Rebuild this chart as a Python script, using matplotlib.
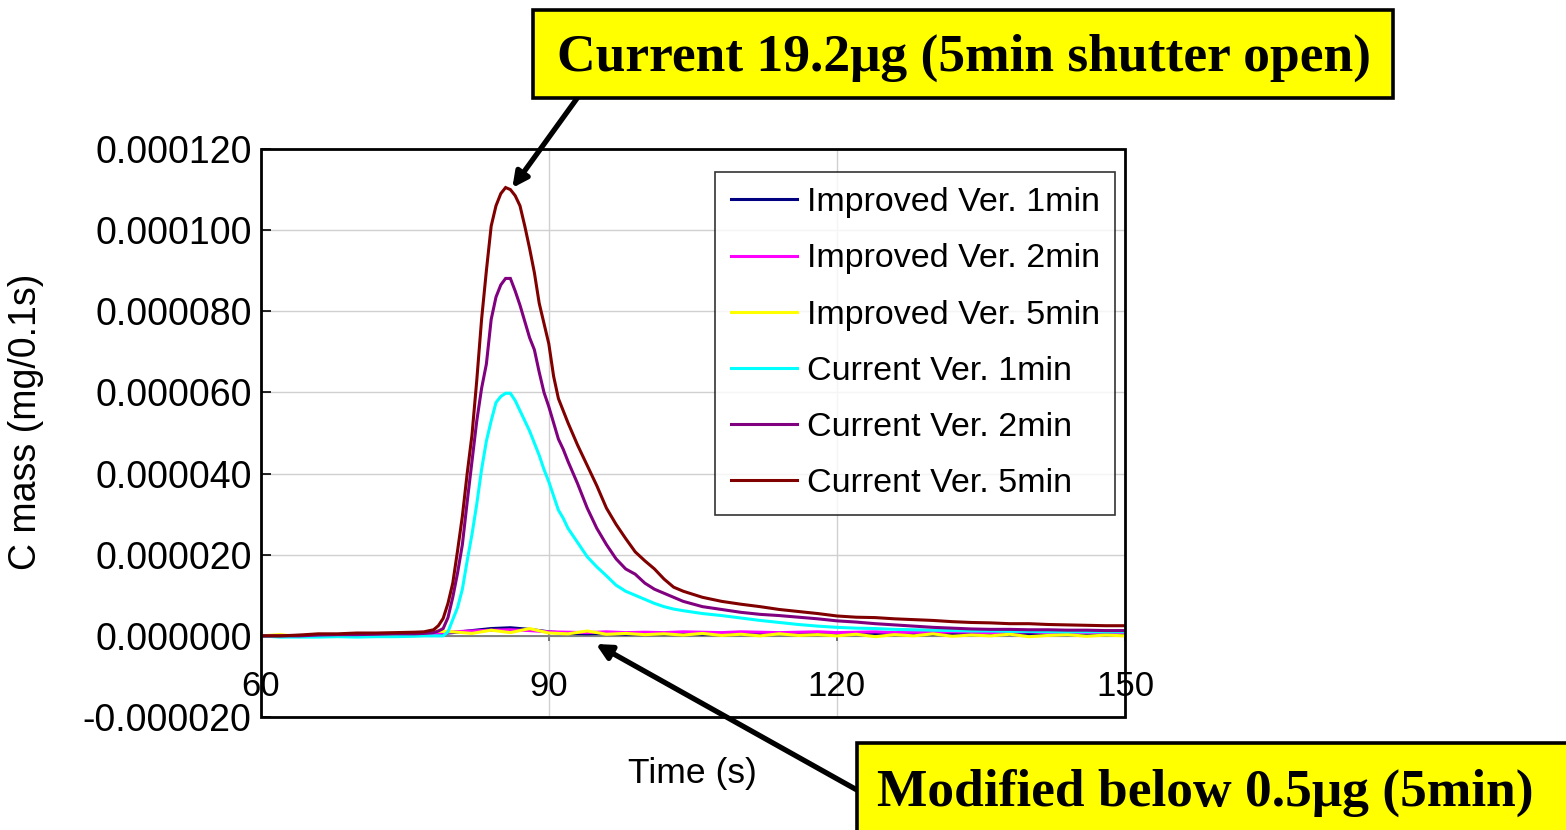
import numpy as np
import matplotlib
matplotlib.use("Agg")
import matplotlib.pyplot as plt
from matplotlib.patches import Rectangle
from matplotlib.ticker import FuncFormatter

# ---- data (mass values in units of 1e-6 mg per 0.1 s) ----
UNIT = 1e-6

time_cur = [60, 62, 64, 66, 68, 70, 72, 74, 76, 77, 78,
            78.5, 79, 79.5, 80, 80.5, 81, 81.5, 82, 82.5, 83, 83.5, 84, 84.5, 85,
            85.5, 86, 86.5, 87, 87.5, 88, 88.5, 89, 89.5, 90, 90.5, 91, 91.5, 92,
            93, 94, 95, 96, 97, 98, 99, 100, 101, 102, 103, 104,
            106, 108, 110, 112, 114, 116, 118, 120, 122, 124, 126, 128, 130, 132,
            134, 136, 138, 140, 142, 144, 146, 148, 150]

cur_1min = [0, -0.3, -0.3, -0.3, -0.2, -0.3, -0.2, -0.2, -0.1, 0, 0,
            0, 0, 1.0, 4.0, 7.0, 11.5, 18.5, 25, 32.5, 41, 48, 53, 57.5, 59,
            59.8, 59.8, 58, 55.5, 53, 50.5, 47.5, 44.5, 41, 38, 34.5, 31, 29, 26.5,
            23, 19.5, 17, 14.8, 12.5, 11, 10, 9, 8, 7.2, 6.6, 6.2,
            5.5, 5.0, 4.4, 3.8, 3.3, 2.8, 2.4, 2.1, 1.9, 1.8, 1.6, 1.5, 1.4, 1.3,
            1.2, 1.2, 1.1, 1.1, 1.0, 1.0, 1.0, 1.0, 1.0]

cur_2min = [0, 0, 0, 0.2, 0.3, 0.3, 0.4, 0.5, 0.5, 0.6, 0.8,
            1.2, 1.8, 4.5, 9.5, 15.5, 22.5, 33, 43, 53, 61, 67, 78, 83.5, 86.5,
            88.1, 88.1, 85, 81.5, 77.5, 73.5, 70.5, 65, 60, 56.5, 52.5, 48.5, 46, 43,
            37.5, 31.5, 26.5, 22.5, 19, 16.5, 15.2, 13, 11.5, 10.5, 9.5, 8.5,
            7.2, 6.5, 5.8, 5.3, 5.0, 4.6, 4.2, 3.7, 3.4, 3.0, 2.7, 2.4, 2.1, 1.9,
            1.7, 1.6, 1.6, 1.5, 1.5, 1.4, 1.4, 1.3, 1.3]

cur_5min = [0, 0, 0.2, 0.5, 0.5, 0.7, 0.7, 0.8, 0.9, 1.0, 1.5,
            2.5, 4.3, 8, 13, 21, 29.5, 40, 49.5, 63, 78, 90, 101, 106, 109,
            110.5, 110, 108.5, 106, 101, 95.5, 89.5, 82, 77, 72, 64, 58.5, 55.5, 52.5,
            47, 42, 37, 31.5, 27.5, 24, 20.7, 18.5, 16.5, 14, 12, 11,
            9.5, 8.5, 7.8, 7.2, 6.5, 6.0, 5.5, 4.9, 4.6, 4.5, 4.2, 4.0, 3.8, 3.5,
            3.3, 3.2, 3.0, 3.0, 2.8, 2.7, 2.6, 2.5, 2.5]

time_imp = [60, 62, 64, 66, 68, 70, 72, 74, 76, 78,
            80, 82, 84, 86, 88, 90, 92, 94, 96, 98,
            100, 102, 104, 106, 108, 110, 112, 114, 116, 118,
            120, 122, 124, 126, 128, 130, 132, 134, 136, 138,
            140, 142, 144, 146, 148, 150]

imp_1min = [0, 0, 0.1, 0, 0.2, 0.1, 0.2, 0.1, 0.2, 0.4,
            0.8, 1.3, 1.8, 2.0, 1.6, 1.0, 0.6, 0.5, 0.6, 0.4,
            0.5, 0.4, 0.6, 0.4, 0.5, 0.5, 0.4, 0.6, 0.5, 0.4,
            0.5, 0.6, 0.4, 0.5, 0.5, 0.4, 0.6, 0.5, 0.5, 0.4,
            0.5, 0.6, 0.5, 0.4, 0.5, 0.5]

imp_2min = [0, 0.1, 0, 0.2, 0, 0.1, 0.2, 0.1, 0.3, 0.5,
            1.0, 1.2, 1.4, 1.5, 1.3, 1.0, 0.9, 0.8, 1.0, 0.8,
            0.9, 0.8, 1.0, 0.9, 0.8, 1.0, 0.9, 0.8, 0.9, 1.0,
            0.8, 0.9, 1.0, 0.8, 0.9, 0.8, 1.0, 0.9, 0.8, 0.9,
            1.0, 0.8, 0.9, 0.8, 0.9, 0.8]

imp_5min = [0, 0.3, -0.2, 0.4, -0.1, 0.2, 0.5, 0.1, 0.3, 1.2,
            1.0, 0.6, 1.4, 0.8, 1.8, 0.7, 0.5, 1.2, 0.4, 0.6,
            0.3, 0.5, 0.2, 0.6, 0.1, 0.4, 0.0, 0.5, 0.1, 0.3,
            0.0, 0.4, -0.2, 0.3, 0.0, 0.5, -0.1, 0.2, 0.0, 0.4,
            -0.2, 0.1, 0.3, -0.1, 0.2, 0.0]

series_labels = ["Improved Ver. 1min", "Improved Ver. 2min", "Improved Ver. 5min",
                 "Current Ver. 1min", "Current Ver. 2min", "Current Ver. 5min"]
series_colors = ["#000080", "#FF00FF", "#FFFF00", "#00FFFF", "#800080", "#800000"]

x_ticks = [60, 90, 120, 150]
y_ticks = [-0.00002, 0.0, 0.00002, 0.00004, 0.00006, 0.00008, 0.0001, 0.00012]

note_top = "Current 19.2μg (5min shutter open)"
note_bottom = "Modified below 0.5μg (5min)"
peak_time, peak_value = 86.2, 110.4      # arrow target on the 5min current peak
base_time, base_value = 94.9, -2.0       # arrow target near the improved baseline

# ---- figure ----
plt.rcParams["font.family"] = ["Liberation Sans", "DejaVu Sans"]
W, H = 1566, 830
fig = plt.figure(figsize=(W / 100, H / 100), dpi=100)
ax = fig.add_axes([260.7 / W, 1 - 717 / H, (1125 - 260.7) / W, (717 - 149) / H])

series = [(time_imp, imp_1min), (time_imp, imp_2min), (time_imp, imp_5min),
          (time_cur, cur_1min), (time_cur, cur_2min), (time_cur, cur_5min)]
handles = []
for (tt, vv), lab, col in zip(series, series_labels, series_colors):
    h, = ax.plot(tt, np.array(vv) * UNIT, color=col, lw=2.2, label=lab,
                 solid_joinstyle="miter", zorder=3)
    handles.append(h)

ax.set_xlim(60, 150)
ax.set_ylim(-0.00002, 0.00012)
ax.set_xticks(x_ticks)
ax.set_yticks(y_ticks)
ax.yaxis.set_major_formatter(FuncFormatter(lambda v, p: f"{v:.6f}"))
ax.grid(True, color="#d0d0d0", lw=1.0, zorder=0)
ax.set_axisbelow(True)

# horizontal axis crosses at zero; the plot area keeps a black frame
for s in ("top", "right", "left"):
    ax.spines[s].set_visible(False)
ax.spines["bottom"].set_position(("data", 0))
ax.spines["bottom"].set_color("#808080")
ax.spines["bottom"].set_linewidth(1.4)
ax.spines["bottom"].set_zorder(2)
ax.add_patch(Rectangle((0, 0), 1, 1, transform=ax.transAxes, fill=False,
                       ec="black", lw=2.0, zorder=5, clip_on=False))

ax.tick_params(axis="x", direction="inout", length=7, width=1.2, color="#606060",
               pad=21, labelsize=25)
ax.tick_params(axis="y", direction="in", length=7, width=1.2, color="black",
               pad=6.5, labelsize=27)

ax.set_xlabel("Time (s)", fontsize=25.5)
ax.xaxis.set_label_coords(0.5, (717 - 757) / 568)
ax.set_ylabel("C mass (mg/0.1s)", fontsize=27)
ax.yaxis.set_label_coords((44 - 260.7) / 864.3, 0.52)

leg = ax.legend(handles=handles, loc="upper right",
                bbox_to_anchor=((1115 - 260.7) / 864.3, (717 - 172) / 568),
                borderaxespad=0, fontsize=24.5, frameon=True, fancybox=False,
                edgecolor="black", handlelength=1.95, handletextpad=0.28,
                labelspacing=0.74, borderpad=0.45)
leg.get_frame().set_linewidth(1.2)
leg.set_zorder(6)

# ---- call-out boxes ----
fig.patches.append(Rectangle((533 / W, 1 - 98 / H), 860 / W, 88 / H,
                             transform=fig.transFigure, fc="#FFFF00", ec="black",
                             lw=2.6, zorder=10))
fig.text(964 / W, 1 - 58 / H, note_top, ha="center", va="center",
         family=["Liberation Serif"], weight="bold", fontsize=38.5, zorder=11)

fig.patches.append(Rectangle((857 / W, -0.05), 0.5, 0.05 + 87 / H,
                             transform=fig.transFigure, fc="#FFFF00", ec="black",
                             lw=2.6, zorder=10))
fig.text(1205 / W, 1 - 793 / H, note_bottom, ha="center", va="center",
         family=["Liberation Serif"], weight="bold", fontsize=38.5, zorder=11)

arrow = dict(arrowstyle="-|>,head_length=0.9,head_width=0.45", lw=3.8,
             color="black", shrinkA=0, shrinkB=0)
ax.annotate("", xy=(peak_time, peak_value * UNIT), xycoords="data",
            xytext=(578, H - 97), textcoords="figure pixels",
            arrowprops=arrow, annotation_clip=False, zorder=9)
ax.annotate("", xy=(base_time, base_value * UNIT), xycoords="data",
            xytext=(857, H - 790), textcoords="figure pixels",
            arrowprops=arrow, annotation_clip=False, zorder=9)

fig.savefig("out.png", dpi=100)
